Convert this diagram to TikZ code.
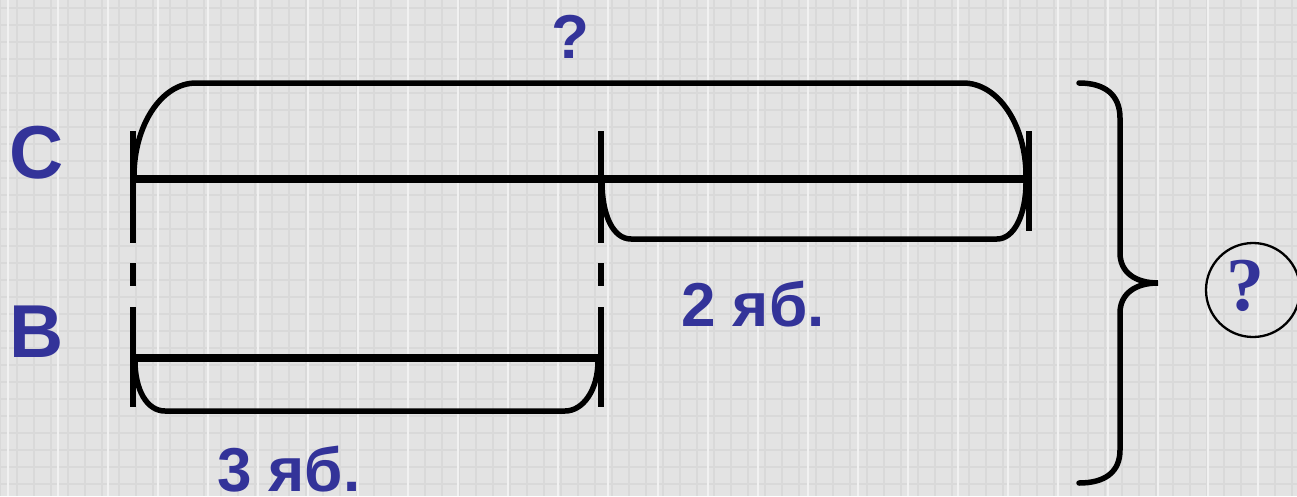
\documentclass[tikz,border=0pt]{standalone}
\usepackage{fontspec}
\setmainfont{Liberation Sans}
\newfontfamily\serifq{Liberation Serif}
\definecolor{bgc}{RGB}{227,227,227}
\definecolor{gridc}{RGB}{217,217,217}
\definecolor{lab}{RGB}{51,51,153}
\tikzset{
  mainline/.style={line width=8.5pt},
  tickline/.style={line width=5.5pt},
  brk/.style={line width=5.5pt, line cap=round},
  lbl/.style={text=lab, font=\bfseries\fontsize{62}{70}\selectfont, inner sep=0pt, anchor=base},
  biglbl/.style={text=lab, font=\bfseries\fontsize{75}{80}\selectfont, inner sep=0pt, anchor=base}
}
\begin{document}
\begin{tikzpicture}[x=1pt,y=-1pt]
\useasboundingbox (0,0) rectangle (1297,496);
\fill[bgc] (0,0) rectangle (1297,496);
% faint grid
\foreach \x in {0,17,...,1297} \draw[gridc, line width=1.1pt] (\x,0) -- (\x,496);
\foreach \y in {8,25,...,496} \draw[gridc, line width=1.1pt] (0,\y) -- (1297,\y);
\foreach \x in {8,58,...,1297} \draw[white!50!bgc, line width=1.5pt] (\x,0) -- (\x,496);

% key points
\coordinate (cL) at (133,179);
\coordinate (cM) at (601,179);
\coordinate (cR) at (1029,179);
\coordinate (bL) at (133,358);
\coordinate (bR) at (601,358);

% C segment and B segment
\draw[mainline] (cL) -- (cR);
\draw[mainline] (bL) -- (bR);

% ticks
\draw[tickline] (133,131) -- (133,243);
\draw[tickline] (601,131) -- (601,243);
\draw[tickline] (1029,131) -- (1029,231);
\draw[tickline] (133,263) -- (133,286);
\draw[tickline] (601,263) -- (601,286);
\draw[tickline] (133,307) -- (133,407);
\draw[tickline] (601,307) -- (601,407);

% top bracket (whole C)
\draw[brk] (134,176) .. controls (134,126) and (161,83) .. (196,83)
  -- (963,83) .. controls (999,83) and (1026,126) .. (1026,176);
% bracket under second part of C
\draw[brk] (602,182) .. controls (602,215) and (613,239) .. (631,239)
  -- (997,239) .. controls (1014,239) and (1026,215) .. (1026,182);
% bracket under B
\draw[brk] (135,361) .. controls (135,390) and (147,411) .. (165,411)
  -- (565,411) .. controls (583,411) and (598,390) .. (598,361);

% right brace
\draw[brk] (1079,83) .. controls (1105,83) and (1120,95) .. (1120,118)
  -- (1120,253) .. controls (1120,272) and (1135,283) .. (1158,283)
  .. controls (1135,283) and (1120,294) .. (1120,313)
  -- (1120,450) .. controls (1120,472) and (1105,483) .. (1079,483);

% labels
\node[biglbl] (C) at (37,178) {C};
\node[biglbl] (B) at (37,357) {B};
\node[lbl] (q) at (570,58) {?};
\node[lbl, anchor=base west] (two) at (681,326) {2 яб.};
\node[lbl, anchor=base west] (three) at (217,491) {3 яб.};

% circled question
\draw[line width=2.3pt] (1253,290) circle[radius=47];
\node[text=lab, font=\serifq\bfseries\fontsize{76}{80}\selectfont, inner sep=0pt, anchor=base] (cq) at (1245,310) {?};
\end{tikzpicture}
\end{document}
